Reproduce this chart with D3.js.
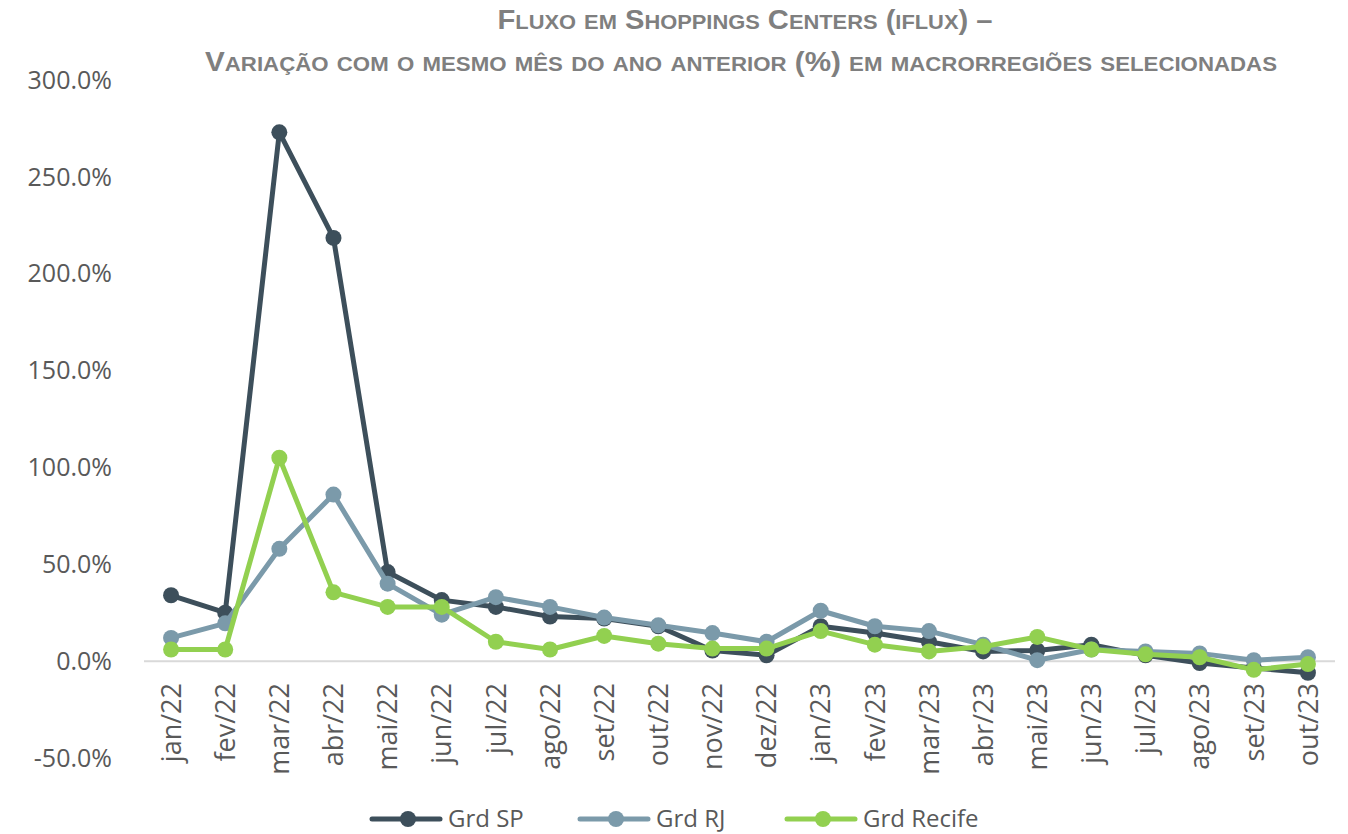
<!DOCTYPE html>
<html>
<head>
<meta charset="utf-8">
<script src="https://cdn.jsdelivr.net/npm/d3@7"></script>
<style>
  body { margin: 0; background: #fff; }
  svg { display: block; }
</style>
</head>
<body>
<div id="chart"></div>
<script>
// data
var months = ["jan/22","fev/22","mar/22","abr/22","mai/22","jun/22","jul/22","ago/22","set/22","out/22","nov/22","dez/22",
              "jan/23","fev/23","mar/23","abr/23","mai/23","jun/23","jul/23","ago/23","set/23","out/23"];
var grdSP     = [34, 25, 273, 218.5, 46, 31.5, 28, 23, 22, 18, 5.5, 3, 18, 14.5, 10, 5, 5.5, 8.5, 3, -1, -3.5, -6];
var grdRJ     = [12, 19.5, 58, 86, 40, 24, 33, 28, 22.5, 18.5, 14.5, 10, 26, 18, 15.5, 8.5, 0.5, 6, 5, 4, 0.5, 2];
var grdRecife = [6, 6, 105, 35.5, 28, 28, 10, 6, 13, 9, 6.5, 6.5, 15.5, 8.5, 5, 7.5, 12.5, 6, 3.5, 2, -4.5, -1.5];
var yTicks = [-50, 0, 50, 100, 150, 200, 250, 300];
var seriesNames = ["Grd SP", "Grd RJ", "Grd Recife"];
var colors = ["#3d4f5b", "#7b9aaa", "#92d050"];
var titleLines = ["Fluxo em Shoppings Centers (iflux) –",
                  "Variação com o mesmo mês do ano anterior (%) em macrorregiões selecionadas"];

var W = 1348, H = 834;
var svg = d3.select("#chart").append("svg").attr("width", W).attr("height", H);

// scales
var x = d3.scaleBand().domain(months).range([144, 1335]);
var y = d3.scaleLinear().domain([-50, 300]).range([758, 80]);
var cx = function(m) { return x(m) + x.bandwidth() / 2; };

// title, hand-made small caps
function smallCaps(sel, str, big, small) {
  var runs = [];
  for (var i = 0; i < str.length; i++) {
    var ch = str[i];
    var isSmall = ch !== ch.toUpperCase();
    if (runs.length && runs[runs.length - 1].small === isSmall) runs[runs.length - 1].t += ch;
    else runs.push({t: ch, small: isSmall});
  }
  runs.forEach(function(r) {
    sel.append("tspan")
      .style("font-size", (r.small ? small : big) + "px")
      .text(r.t.toUpperCase());
  });
}
var title = svg.append("g").attr("fill", "#7f7f7f")
  .style("font-family", "'Liberation Sans Narrow', 'Liberation Sans', Arial, sans-serif")
  .style("font-weight", "bold")
  .attr("text-anchor", "middle");
var t1 = title.append("text").attr("x", 745).attr("y", 29)
  .attr("textLength", 495).attr("lengthAdjust", "spacingAndGlyphs");
smallCaps(t1, titleLines[0], 28, 21);
var t2 = title.append("text").attr("x", 741).attr("y", 71)
  .attr("textLength", 1072).attr("lengthAdjust", "spacingAndGlyphs");
smallCaps(t2, titleLines[1], 28, 21);

// zero line
svg.append("line")
  .attr("x1", 144).attr("x2", 1335)
  .attr("y1", y(0)).attr("y2", y(0))
  .attr("stroke", "#d9d9d9").attr("stroke-width", 2);

// y axis labels
svg.append("g").selectAll("text")
  .data(yTicks).enter().append("text")
  .attr("x", 112).attr("y", function(d) { return y(d); })
  .attr("dy", "0.35em")
  .attr("text-anchor", "end")
  .attr("fill", "#595959")
  .style("font-family", "'Open Sans', sans-serif")
  .style("font-size", "25px")
  .text(function(d) { return d.toFixed(1) + "%"; });

// x axis labels
svg.append("g").selectAll("text")
  .data(months).enter().append("text")
  .attr("transform", function(d) { return "translate(" + cx(d) + ",683) rotate(-90)"; })
  .attr("dy", "0.36em")
  .attr("text-anchor", "end")
  .attr("fill", "#595959")
  .style("font-family", "'Open Sans', sans-serif")
  .style("font-size", "27px")
  .text(function(d) { return d; });

// lines + markers
var allSeries = [grdSP, grdRJ, grdRecife];
var line = d3.line()
  .x(function(d, i) { return cx(months[i]); })
  .y(function(d) { return y(d); });

allSeries.forEach(function(vals, s) {
  svg.append("path")
    .datum(vals)
    .attr("d", line)
    .attr("fill", "none")
    .attr("stroke", colors[s])
    .attr("stroke-width", 5)
    .attr("stroke-linejoin", "round");
  svg.append("g").selectAll("circle")
    .data(vals).enter().append("circle")
    .attr("cx", function(d, i) { return cx(months[i]); })
    .attr("cy", function(d) { return y(d); })
    .attr("r", 8)
    .attr("fill", colors[s]);
});

// legend
var legX = [372, 580, 787];
var legend = svg.append("g");
seriesNames.forEach(function(name, s) {
  var g = legend.append("g").attr("transform", "translate(" + legX[s] + ",819)");
  g.append("line").attr("x1", 0).attr("x2", 68).attr("y1", 0).attr("y2", 0)
    .attr("stroke", colors[s]).attr("stroke-width", 5).attr("stroke-linecap", "round");
  g.append("circle").attr("cx", 36).attr("cy", 0).attr("r", 8).attr("fill", colors[s]);
  g.append("text").attr("x", 76).attr("y", 0).attr("dy", "0.35em")
    .attr("fill", "#595959")
    .style("font-family", "'Open Sans', sans-serif")
    .style("font-size", "24px")
    .text(name);
});
</script>
</body>
</html>
